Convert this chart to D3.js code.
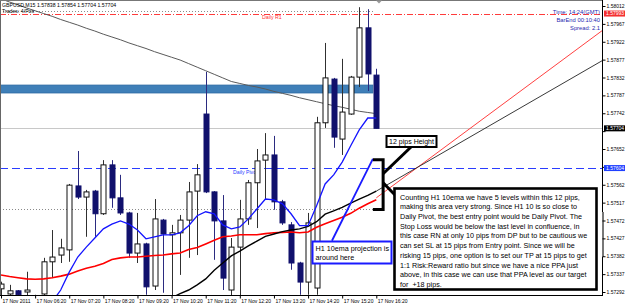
<!DOCTYPE html>
<html><head><meta charset="utf-8">
<script src="https://cdn.jsdelivr.net/npm/d3@7/dist/d3.min.js"></script>
<style>body{margin:0;background:#fff}svg{display:block}text{font-family:"Liberation Sans",Arial,sans-serif}</style>
</head><body>
<svg id="c" width="625" height="304"></svg>
<script>
// ---- data (GBPUSD M15, 17 Nov 2011) ----
const open  = [1.57300,1.57287,1.57295,1.57292,1.57272,1.57287,1.57368,1.57385,1.57398,1.57559,1.57531,1.57546,1.57489,1.57612,1.57529,1.57491,1.57390,1.57413,1.57307,1.57473,1.57436,1.57441,1.57473,1.57546,1.57740,1.57544,1.57471,1.57297,1.57405,1.57476,1.57567,1.57624,1.57637,1.57519,1.57461,1.57365,1.57317,1.57302,1.57718,1.57828,1.57677,1.57740,1.57833,1.57957,1.57838];
const high  = [1.57318,1.57310,1.57297,1.57343,1.57285,1.57378,1.57448,1.57426,1.57564,1.57647,1.57549,1.57549,1.57624,1.57624,1.57587,1.57494,1.57491,1.57416,1.57526,1.57476,1.57461,1.57486,1.57569,1.57614,1.57846,1.57546,1.57536,1.57428,1.57524,1.57574,1.57652,1.57692,1.57685,1.57524,1.57468,1.57368,1.57491,1.57733,1.57919,1.57831,1.57879,1.57836,1.58009,1.58004,1.57854];
const low   = [1.57282,1.57280,1.57278,1.57280,1.57260,1.57280,1.57327,1.57365,1.57368,1.57526,1.57431,1.57431,1.57486,1.57504,1.57486,1.57378,1.57365,1.57285,1.57297,1.57290,1.57272,1.57335,1.57378,1.57385,1.57541,1.57373,1.57297,1.57282,1.57260,1.57461,1.57453,1.57524,1.57499,1.57461,1.57348,1.57285,1.57285,1.57285,1.57705,1.57655,1.57637,1.57738,1.57808,1.57798,1.57704];
const close = [1.57312,1.57295,1.57285,1.57297,1.57280,1.57368,1.57380,1.57403,1.57561,1.57531,1.57544,1.57489,1.57612,1.57529,1.57491,1.57390,1.57413,1.57305,1.57476,1.57438,1.57441,1.57473,1.57544,1.57587,1.57544,1.57471,1.57327,1.57405,1.57476,1.57567,1.57622,1.57637,1.57519,1.57466,1.57365,1.57317,1.57466,1.57718,1.57831,1.57682,1.57745,1.57833,1.57957,1.57841,1.57704];

const maGray  = [1.58030,1.58022,1.58015,1.58007,1.58000,1.57993,1.57986,1.57978,1.57971,1.57964,1.57956,1.57949,1.57941,1.57934,1.57927,1.57919,1.57912,1.57905,1.57897,1.57890,1.57883,1.57876,1.57867,1.57858,1.57849,1.57840,1.57831,1.57822,1.57817,1.57812,1.57808,1.57803,1.57797,1.57792,1.57787,1.57781,1.57776,1.57771,1.57766,1.57761,1.57757,1.57752,1.57747,1.57744,1.57741];
const maBlue  = [null,null,null,null,null,1.57234,1.57267,1.57297,1.57342,1.57380,1.57405,1.57428,1.57451,1.57463,1.57471,1.57463,1.57448,1.57426,1.57431,1.57436,1.57436,1.57441,1.57459,1.57484,1.57494,1.57489,1.57461,1.57451,1.57456,1.57476,1.57501,1.57526,1.57524,1.57514,1.57489,1.57459,1.57459,1.57509,1.57564,1.57587,1.57619,1.57660,1.57700,1.57730,1.57730];
const maRed   = [1.57335,1.57331,1.57328,1.57325,1.57324,1.57325,1.57328,1.57332,1.57337,1.57345,1.57352,1.57357,1.57364,1.57374,1.57378,1.57380,1.57380,1.57382,1.57384,1.57385,1.57388,1.57390,1.57399,1.57404,1.57413,1.57422,1.57431,1.57433,1.57436,1.57436,1.57436,1.57439,1.57441,1.57442,1.57443,1.57441,1.57443,1.57455,1.57464,1.57472,1.57480,1.57490,1.57503,1.57514,1.57524];
const maBlack = [null,null,null,null,null,null,null,null,null,null,null,null,null,null,null,null,null,null,null,1.57264,1.57277,1.57288,1.57297,1.57310,1.57325,1.57347,1.57365,1.57383,1.57395,1.57408,1.57420,1.57432,1.57438,1.57444,1.57448,1.57451,1.57457,1.57469,1.57488,1.57496,1.57505,1.57516,1.57526,1.57535,1.57546];

const timeLabels = ["17 Nov 2011","17 Nov 06:20","17 Nov 07:20","17 Nov 08:20","17 Nov 09:20","17 Nov 10:20","17 Nov 11:20","17 Nov 12:20","17 Nov 13:20","17 Nov 14:20","17 Nov 15:20","17 Nov 16:20"];
const priceTicks = [1.58012,1.57967,1.57922,1.57877,1.57832,1.57787,1.57742,1.57697,1.57652,1.57607,1.57562,1.57517,1.57472,1.57427,1.57382,1.57337,1.57292];

const dailyR1 = 1.57993, dailyPivot = 1.57604, bid = 1.57704;
const roundNumbers = [1.58000, 1.57500];
const ppaZone = [1.57793, 1.57813];
const rayRed   = [[44,1.57529],[64,1.57847]];
const rayBlack = [[44,1.57546],[64,1.57794]];
const projection = [[38.8,1.57421],[43.6,1.57627]];
const bracket = {x0:43.6, x1:44.8, top:1.57625, bottom:1.57500};
const header = "GBPUSD,M15  1.57838 1.57854 1.57704 1.57704";
const infoLines = ["Time: 14:24(GMT)","BarEnd 00:10:40","Spread: 2.1"];
const noteLines = [
"Counting H1 10ema we have 5 levels within this 12 pips,",
"making this area very strong. Since H1 10 is so close to",
"Daily Pivot, the best entry point would be Daily Pivot. The",
"Stop Loss would be below the last level in confluence, in",
"this case RN at only 10 pips from DP but to be cautious we",
"can set SL at 15 pips from Entry point. Since we will be",
"risking 15 pips, one option is to set our TP at 15 pips to get",
"1:1 Risk:Reward ratio but since we have a nice PPA just",
"above, in this case we can use that PPA level as our target",
"for  +18 pips."];

// ---- layout ----
const svg = d3.select("#c");
const plotR = 602, plotB = 295;
const x = d3.scaleLinear().domain([0,44]).range([1,376.3]);
const y = d3.scaleLinear().domain([1.57292,1.58012]).range([292,6]);
const barsEnd = (plotR-1)/((376.3-1)/44);
const px = v => Math.round(v)+0.5;
const tags = [[dailyR1,"#f43030"],[bid,"#000"],[dailyPivot,"#2040ff"]];

svg.append("rect").attr("width",625).attr("height",304).attr("fill","#fff");
svg.append("defs").append("clipPath").attr("id","clip").append("rect").attr("x",0).attr("y",0).attr("width",plotR).attr("height",plotB);
const g = svg.append("g").attr("clip-path","url(#clip)");

// PPA zone band
g.append("rect").attr("x",0).attr("width",x(43.6)).attr("y",y(ppaZone[1])).attr("height",y(ppaZone[0])-y(ppaZone[1]))
 .attr("fill","#3f7fb8").attr("stroke","#2d6aa3").attr("stroke-width",0.8);
// round number dotted lines
roundNumbers.forEach(v=>g.append("line").attr("x1",0).attr("x2",x(43.8)).attr("y1",px(y(v))).attr("y2",px(y(v)))
 .attr("stroke","#8a8a8a").attr("stroke-dasharray","1,2"));
// bid line
g.append("line").attr("x1",0).attr("x2",plotR).attr("y1",px(y(bid))).attr("y2",px(y(bid))).attr("stroke","#c8c8c8");
// R1 and pivot
g.append("line").attr("x1",0).attr("x2",plotR).attr("y1",px(y(dailyR1))).attr("y2",px(y(dailyR1)))
 .attr("stroke","#ff3b3b").attr("stroke-dasharray","6,2,1,2");
g.append("line").attr("x1",0).attr("x2",plotR).attr("y1",px(y(dailyPivot))).attr("y2",px(y(dailyPivot)))
 .attr("stroke","#2a3cff").attr("stroke-dasharray","8,4");
g.append("text").attr("x",x(30.6)).attr("y",y(dailyR1)+5.5).attr("font-size",5.2).attr("fill","#ff3030").text("Daily R1");
g.append("text").attr("x",x(27.2)).attr("y",y(dailyPivot)+5.5).attr("font-size",5.2).attr("fill","#2a3cff").text("Daily Pivot");

// slow MA
const lineGen = arr => d3.line().defined(d=>d!=null).x((d,i)=>x(i)).y(d=>y(d))(arr);
g.append("path").attr("d",lineGen(maGray)).attr("fill","none").attr("stroke","#5a5a5a").attr("stroke-width",1);

// candles
const idx = d3.range(open.length);
const cg = g.append("g");
idx.forEach(i=>{
  const bull = close[i] >= open[i];
  const cx = px(x(i));
  cg.append("line").attr("x1",cx).attr("x2",cx).attr("y1",y(high[i])).attr("y2",y(low[i]))
    .attr("stroke", bull ? "#303030" : "#2b2b80").attr("stroke-width",1);
  const top = y(Math.max(open[i],close[i])), bot = y(Math.min(open[i],close[i]));
  cg.append("rect").attr("x",cx-2.5).attr("y",top).attr("width",5).attr("height",Math.max(1,bot-top))
    .attr("fill", bull ? "#fff" : "#10106c").attr("stroke", bull ? "#111" : "#10106c").attr("stroke-width",1);
});

// fast MAs
g.append("path").attr("d",lineGen(maRed)).attr("fill","none").attr("stroke","#ff0000").attr("stroke-width",1.6);
g.append("path").attr("d",lineGen(maBlack)).attr("fill","none").attr("stroke","#000").attr("stroke-width",1.4);
g.append("path").attr("d",lineGen(maBlue)).attr("fill","none").attr("stroke","#1414ff").attr("stroke-width",1.3);

// trend rays
const ray = (r,col)=>{
  const [a,b]=r; const s=(b[1]-a[1])/(b[0]-a[0]);
  g.append("line").attr("x1",x(a[0])).attr("y1",y(a[1])).attr("x2",x(barsEnd)).attr("y2",y(a[1]+s*(barsEnd-a[0])))
   .attr("stroke",col).attr("stroke-width",0.9);
};
ray(rayRed,"#ff2a2a"); ray(rayBlack,"#222");

// projection
g.append("line").attr("x1",x(projection[0][0])).attr("y1",y(projection[0][1])).attr("x2",x(projection[1][0])).attr("y2",y(projection[1][1]))
 .attr("stroke","#1a1aff").attr("stroke-width",1.8);

// bracket
const bx0=x(bracket.x0), bx1=x(bracket.x1), bt=y(bracket.top), bb=y(bracket.bottom);
g.append("path").attr("d",`M${bx0},${bt}H${bx1}V${bb}H${bx0}`).attr("fill","none").attr("stroke","#000").attr("stroke-width",3);
// connectors
g.append("line").attr("x1",bx1).attr("y1",bt+14).attr("x2",411).attr("y2",147).attr("stroke","#000").attr("stroke-width",3);
g.append("line").attr("x1",bx1).attr("y1",bt+23).attr("x2",396).attr("y2",196).attr("stroke","#000").attr("stroke-width",3);

// annotation boxes
const ann = svg.append("g");
ann.append("rect").attr("x",386.5).attr("y",136).attr("width",50).attr("height",11).attr("fill","#fff").attr("stroke","#000").attr("stroke-width",2);
ann.append("text").attr("x",411.5).attr("y",144.3).attr("text-anchor","middle").attr("font-size",7).text("12 pips Height");

ann.append("rect").attr("x",312.5).attr("y",241.5).attr("width",79).attr("height",22).attr("fill","#fff").attr("stroke","#1a1aff").attr("stroke-width",2);
ann.append("text").attr("x",315.5).attr("y",251).attr("font-size",7.2).text("H1 10ema projection is");
ann.append("text").attr("x",315.5).attr("y",260).attr("font-size",7.2).text("around here");

ann.append("rect").attr("x",394.5).attr("y",188.5).attr("width",202).attr("height",101).attr("fill","#fff").attr("stroke","#000").attr("stroke-width",2.6);
noteLines.forEach((t,k)=>ann.append("text").attr("x",400).attr("y",199.6+k*9.7).attr("font-size",7.2)
  .style("white-space","pre").text(t));

// axes
svg.append("line").attr("x1",0.5).attr("x2",0.5).attr("y1",0).attr("y2",plotB).attr("stroke","#666");
svg.append("line").attr("x1",0).attr("x2",plotR).attr("y1",0.5).attr("y2",0.5).attr("stroke","#777");
svg.append("path").attr("d","M376,0.5 l3,3 l3,-3z").attr("fill","#999");
svg.append("line").attr("x1",plotR+0.5).attr("x2",plotR+0.5).attr("y1",0).attr("y2",plotB+1).attr("stroke","#000");
svg.append("line").attr("x1",0).attr("x2",plotR+1).attr("y1",plotB+0.5).attr("y2",plotB+0.5).attr("stroke","#000");
svg.append("line").attr("x1",plotR+1).attr("x2",plotR+1).attr("y1",212).attr("y2",257).attr("stroke","#777").attr("stroke-width",2);

const yAxis = d3.axisRight(y).tickValues(priceTicks).tickFormat(d3.format(".5f")).tickSize(3).tickPadding(1);
const ya = svg.append("g").attr("transform",`translate(${plotR+0.5},0)`).call(yAxis);
ya.select(".domain").remove();
ya.selectAll("text").attr("font-size",5).attr("fill","#000").attr("font-family","Liberation Sans, Arial, sans-serif")
  .filter(d=>tags.some(t=>Math.abs(y(t[0])-y(d))<6)).remove();

const xAxis = d3.axisBottom(x).tickValues(d3.range(0,45,4)).tickFormat((d,i)=>timeLabels[i]).tickSize(3).tickPadding(1);
const xa = svg.append("g").attr("transform",`translate(0,${plotB+0.5})`).call(xAxis);
xa.select(".domain").remove();
xa.selectAll("text").attr("font-size",5).attr("fill","#000").attr("text-anchor","start").attr("dx",1).attr("font-family","Liberation Sans, Arial, sans-serif");

// price boxes on axis
tags.forEach(([v,fill])=>{
  svg.append("rect").attr("x",plotR+2).attr("y",y(v)-3).attr("width",21).attr("height",6).attr("fill",fill);
  svg.append("text").attr("x",plotR+4).attr("y",y(v)+1.8).attr("font-size",5).attr("fill","#fff").text(d3.format(".5f")(v));
});

// header texts
svg.append("text").attr("x",2).attr("y",7).attr("font-size",5.2).text(header);
svg.append("text").attr("x",2).attr("y",13).attr("font-size",5.2).text("Trades: 4/Pos");
infoLines.forEach((t,k)=>svg.append("text").attr("x",600).attr("y",14+k*8).attr("text-anchor","end")
  .attr("font-size",5.8).attr("fill","#1f1fb0").text(t));
</script>
</body></html>
